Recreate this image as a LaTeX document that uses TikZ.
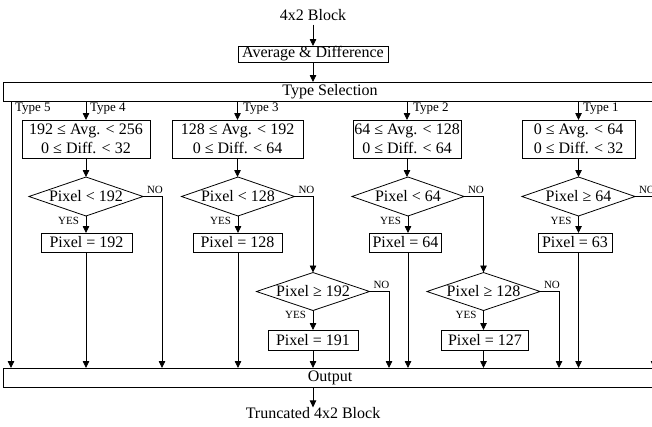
\documentclass[tikz,border=0pt]{standalone}
\usepackage{fontspec}
\setmainfont{Liberation Serif}
\usetikzlibrary{shapes.geometric,arrows.meta}
\begin{document}
\begin{tikzpicture}[x=1pt,y=-1pt,
  line width=0.8pt,
  arr/.style={-{Triangle[length=7pt,width=6.5pt]}},
  txt/.style={inner sep=0pt,outer sep=0pt,font=\fontsize{16}{19}\selectfont},
  box/.style={draw,inner sep=0pt,outer sep=0pt,font=\fontsize{16}{19}\selectfont,align=center},
  dec/.style={draw,diamond,shape aspect=3.2,inner sep=0pt,outer sep=0pt,minimum width=113pt,minimum height=39pt,font=\fontsize{16}{19}\selectfont},
  lab/.style={inner sep=0pt,outer sep=0pt,font=\fontsize{11}{13}\selectfont},
  typ/.style={inner sep=0pt,outer sep=0pt,font=\fontsize{13}{15}\selectfont,anchor=west},
]
\clip (0,0) rectangle (652,426);
\fill[white] (0,0) rectangle (652,426);

% top
\node[txt,inner ysep=4pt] (in) at (313,15) {4x2 Block};
\node[box,minimum width=150pt,minimum height=16pt] (ad) at (313,54) {Average \& Difference};
\node[box,minimum width=654pt,minimum height=19pt] (ts) at (330,91.5) {Type Selection};
\node[box,minimum width=654pt,minimum height=19pt] (out) at (330,377.5) {Output};
\node[txt] (tr) at (313,413) {Truncated 4x2 Block};

\draw[arr] (in.south) -- (ad.north);
\draw[arr] (ad.south) -- (ad.south |- ts.north);
\draw[arr] (out.south -| tr.north) -- (tr.north);

% type labels
\node[typ] (l5) at (15,109) {Type 5};
\node[typ] (l4) at (90,109) {Type 4};
\node[typ] (l3) at (243,109) {Type 3};
\node[typ] (l2) at (413,109) {Type 2};
\node[typ] (l1) at (583,109) {Type 1};

% column 4
\node[box,minimum width=128pt,minimum height=38pt] (c4) at (86,139) {192 ≤ Avg. < 256\\0 ≤ Diff. < 32};
\node[dec,minimum width=114pt] (d4) at (86,196.5) {Pixel < 192};
\node[box,minimum width=91pt,minimum height=19pt] (r4) at (86.5,242.5) {Pixel = 192};
% column 3
\node[box,minimum width=131pt,minimum height=38pt] (c3) at (237.5,139) {128 ≤ Avg. < 192\\0 ≤ Diff. < 64};
\node[dec] (d3) at (238,196.5) {Pixel < 128};
\node[box,minimum width=89pt,minimum height=19pt] (r3) at (237.5,242.5) {Pixel = 128};
\node[dec,minimum height=38pt] (e3) at (313,291.5) {Pixel ≥ 192};
\node[box,minimum width=90pt,minimum height=20pt] (q3) at (313,340) {Pixel = 191};
% column 2
\node[box,minimum width=108pt,minimum height=38pt] (c2) at (407,139) {64 ≤ Avg. < 128\\0 ≤ Diff. < 64};
\node[dec,minimum width=112pt] (d2) at (408,196.5) {Pixel < 64};
\node[box,minimum width=72pt,minimum height=19pt] (r2) at (405.5,242.5) {Pixel = 64};
\node[dec,minimum height=38pt] (e2) at (483.5,291.5) {Pixel ≥ 128};
\node[box,minimum width=87pt,minimum height=20pt] (q2) at (485,340) {Pixel = 127};
% column 1
\node[box,minimum width=113pt,minimum height=38pt] (c1) at (578.5,139) {0 ≤ Avg. < 64\\0 ≤ Diff. < 32};
\node[dec] (d1) at (578.5,196.5) {Pixel ≥ 64};
\node[box,minimum width=74pt,minimum height=19pt] (r1) at (575,242.5) {Pixel = 63};

% bend coordinates
\coordinate (x5) at (11,0);
\coordinate (n4) at (162,0);
\coordinate (n3) at (389,0);
\coordinate (n2) at (559,0);
\coordinate (n1) at (654,0);

% type 5
\draw[arr] (x5 |- ts.south) -- (x5 |- out.north);

% type arrows into condition boxes and diamonds
\foreach \c/\d in {c4/d4,c3/d3,c2/d2,c1/d1}{
  \draw[arr] (\c.north |- ts.south) -- (\c.north);
  \draw[arr] (\c.south) -- (\c.south |- \d.north);
  \draw[arr] (\d.south) -- (\d.south |- r4.north);
}
\foreach \d/\r in {d4/r4,d3/r3,d2/r2,d1/r1}{
  \draw[arr] (\d.south |- \r.south) -- (\d.south |- out.north);
}
% YES / NO labels
\foreach \d in {d4,d3,d2,d1,e3,e2}{
  \node[lab,anchor=north east] (y\d) at ([xshift=-7pt,yshift=-1pt]\d.south) {YES};
  \node[lab,anchor=south west] (o\d) at ([xshift=4pt,yshift=3pt]\d.east) {NO};
}

% NO branches
\draw[arr] (d4.east) -- (d4.east -| n4) -- (n4 |- out.north);
\draw[arr] (d3.east) -- (d3.east -| e3.north) -- (e3.north);
\draw[arr] (d2.east) -- (d2.east -| e2.north) -- (e2.north);
\draw[arr] (d1.east) -- (d1.east -| n1) -- (n1 |- out.north);
\draw[arr] (e3.east) -- (e3.east -| n3) -- (n3 |- out.north);
\draw[arr] (e2.east) -- (e2.east -| n2) -- (n2 |- out.north);

% second-level YES
\draw[arr] (e3.south) -- (e3.south |- q3.north);
\draw[arr] (e2.south) -- (e2.south |- q2.north);
\draw[arr] (e3.south |- q3.south) -- (e3.south |- out.north);
\draw[arr] (e2.south |- q2.south) -- (e2.south |- out.north);
\end{tikzpicture}
\end{document}
